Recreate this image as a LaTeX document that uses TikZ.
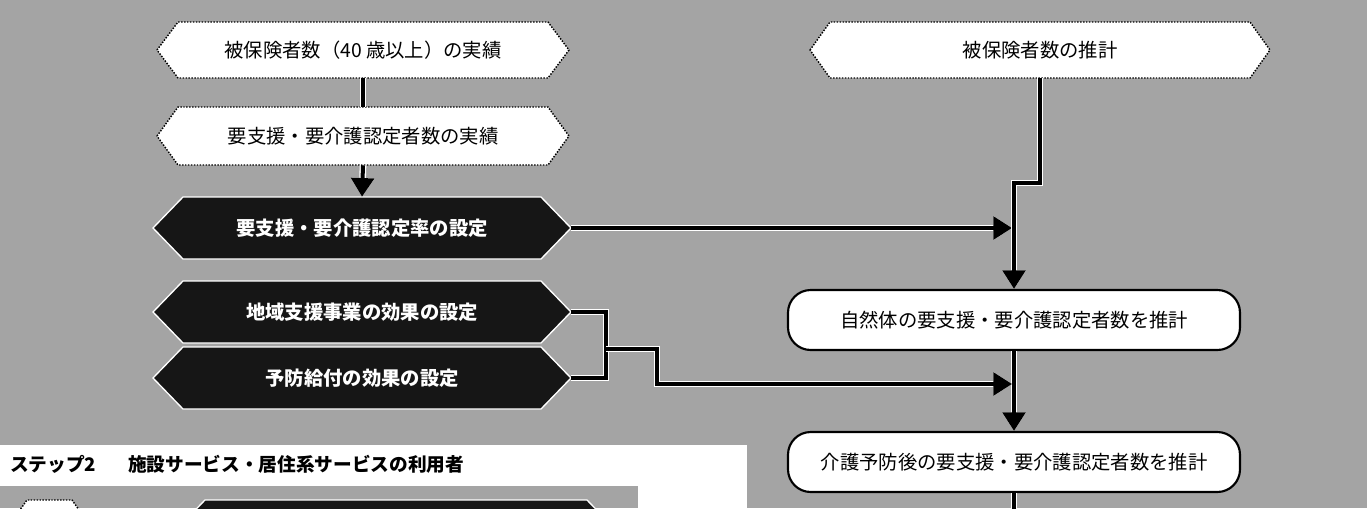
\documentclass[tikz,border=0pt]{standalone}
\usepackage{fontspec}
\setmainfont{Noto Sans CJK JP}
\usetikzlibrary{arrows.meta}
\definecolor{bggray}{HTML}{A4A4A4}
\definecolor{hexblack}{HTML}{161616}
% #1 shape style, #2 name, #3 cx, #4 cy, #5 half width, #6 half height, #7 indent, #8 text style, #9 text
\newcommand\hexnode[9]{%
  \path[#1] (#3-#5,#4) -- (#3-#5+#7,#4-#6) -- (#3+#5-#7,#4-#6) -- (#3+#5,#4)
     -- (#3+#5-#7,#4+#6) -- (#3-#5+#7,#4+#6) -- cycle;
  \node[#8, minimum width=2*#5*0.75pt, minimum height=2*#6*0.75pt, inner sep=0pt] (#2) at (#3,#4) {#9};
}
\begin{document}
\begin{tikzpicture}[x=0.75pt,y=-0.75pt,
  hexw/.style={fill=white, draw=black, line width=1.1pt, dash pattern=on 1.1pt off 1.1pt},
  hexb/.style={fill=hexblack, draw=white, line width=1pt},
  twhite/.style={font=\fontsize{14.5}{17}\selectfont, text=black},
  tblack/.style={font=\bfseries\fontsize{14.5}{17}\selectfont, text=white},
  rbox/.style={draw=black, fill=white, line width=1.6pt, rounded corners=17pt, inner sep=0pt,
    font=\fontsize{14.5}{17}\selectfont},
  conn/.style={draw=black, line width=3pt, preaction={draw=white, line width=5pt}},
  arr/.style={conn, -{Triangle[length=14pt, width=17pt]}},
  ttl/.style={font=\bfseries\fontsize{14}{16}\selectfont, anchor=west, inner sep=0pt}
]
\useasboundingbox (0,0) rectangle (1367,508);
% background
\fill[bggray] (0,0) rectangle (1367,508);
\fill[white] (0,445) rectangle (747,508);
\fill[bggray] (0,486) rectangle (638,508);

% left column
\hexnode{hexw}{h1}{363}{50}{206}{28}{21}{twhite}{被保険者数（40 歳以上）の実績}
\hexnode{hexw}{h2}{363}{136}{206}{29}{21}{twhite}{要支援・要介護認定者数の実績}
\hexnode{hexb}{h3}{362}{228}{209}{31}{30}{tblack}{要支援・要介護認定率の設定}
\hexnode{hexb}{h4}{362}{312}{209}{31}{30}{tblack}{地域支援事業の効果の設定}
\hexnode{hexb}{h5}{362}{378}{209}{31}{30}{tblack}{予防給付の効果の設定}

% right column
\hexnode{hexw}{r1}{1040}{50}{230}{28}{20}{twhite}{被保険者数の推計}
\node[rbox, minimum width=452*0.75pt, minimum height=60*0.75pt] (b1) at (1014,320) {自然体の要支援・要介護認定者数を推計};
\node[rbox, minimum width=452*0.75pt, minimum height=60*0.75pt] (b2) at (1014,462) {介護予防後の要支援・要介護認定者数を推計};

% step 2
\node[ttl] (t) at (10,464) {ステップ2\hspace{1.7em}施設サービス・居住系サービスの利用者};
\hexnode{hexw}{s1}{49.5}{528}{42.5}{28}{20}{twhite}{}
\hexnode{hexb}{s2}{396}{531}{221}{31}{30}{tblack}{}

% connector coordinates
\coordinate (jA) at (1040,183);
\coordinate (jB) at (1014,183);
\coordinate (m3) at (1012,228);
\coordinate (k1) at (606,312);
\coordinate (k2) at (606,378);
\coordinate (k3) at (606,349);
\coordinate (k4) at (657,349);
\coordinate (k5) at (657,384);
\coordinate (k6) at (1012,384);
\coordinate (bend) at (1014,530);

% connectors
\draw[conn] (h1.south) -- (h2.north);
\draw[arr] (h2.south) -- (h3.north);
\draw[arr] (h3.east) -- (m3);
\draw[arr] (r1.south) -- (jA) -- (jB) -- (b1.north);
\draw[arr] (b1.south) -- (b2.north);
\draw[conn] (h4.east) -- (k1) -- (k2) -- (h5.east);
\draw[arr] (k3) -- (k4) -- (k5) -- (k6);
\draw[conn] (b2.south) -- (bend);
\end{tikzpicture}
\end{document}
